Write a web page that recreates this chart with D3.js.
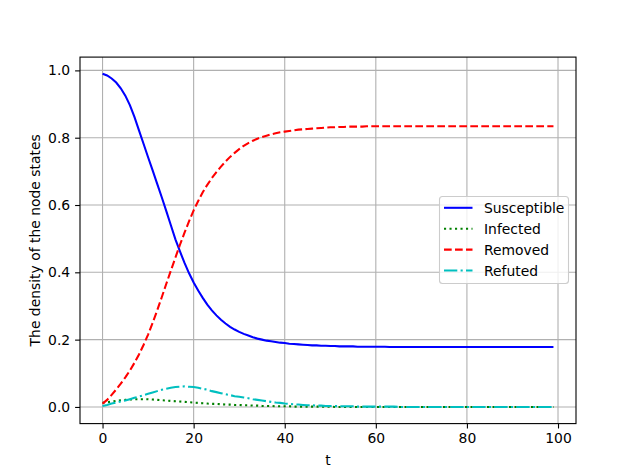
<!DOCTYPE html>
<html>
<head>
<meta charset="utf-8">
<script src="https://cdn.jsdelivr.net/npm/d3@7"></script>
<style>
  body { margin: 0; background: #fff; }
  svg text { font-family: "DejaVu Sans", sans-serif; }
</style>
</head>
<body>
<div id="chart"></div>
<script>
// values, one per t = 0..99
var susceptible = [
  0.990, 0.985, 0.976, 0.964, 0.947, 0.925, 0.897, 0.862, 0.822, 0.782,
  0.742, 0.703, 0.663, 0.623, 0.582, 0.540, 0.498, 0.462, 0.428, 0.397,
  0.370, 0.346, 0.324, 0.304, 0.287, 0.272, 0.259, 0.248, 0.238, 0.230,
  0.223, 0.217, 0.212, 0.207, 0.203, 0.200, 0.197, 0.195, 0.193, 0.191,
  0.190, 0.188, 0.187, 0.186, 0.185, 0.184, 0.183, 0.183, 0.182, 0.182,
  0.181, 0.181, 0.180, 0.180, 0.180, 0.180, 0.179, 0.179, 0.179, 0.179,
  0.179, 0.179, 0.179, 0.178, 0.178, 0.178, 0.178, 0.178, 0.178, 0.178,
  0.178, 0.178, 0.178, 0.178, 0.178, 0.178, 0.178, 0.178, 0.178, 0.178,
  0.178, 0.178, 0.178, 0.178, 0.178, 0.178, 0.178, 0.178, 0.178, 0.178,
  0.178, 0.178, 0.178, 0.178, 0.178, 0.178, 0.178, 0.178, 0.178, 0.178
];
var infected = [
  0.012, 0.014, 0.016, 0.018, 0.020, 0.021, 0.022, 0.023, 0.023, 0.023,
  0.023, 0.022, 0.021, 0.020, 0.019, 0.018, 0.017, 0.016, 0.015, 0.014,
  0.013, 0.012, 0.011, 0.010, 0.009, 0.009, 0.008, 0.007, 0.007, 0.006,
  0.006, 0.005, 0.005, 0.004, 0.004, 0.003, 0.003, 0.003, 0.002, 0.002,
  0.002, 0.002, 0.001, 0.001, 0.001, 0.001, 0.001, 0.001, 0.001, 0.001,
  0.001, 0.000, 0.000, 0.000, 0.000, 0.000, 0.000, 0.000, 0.000, 0.000,
  0.000, 0.000, 0.000, 0.000, 0.000, 0.000, 0.000, 0.000, 0.000, 0.000,
  0.000, 0.000, 0.000, 0.000, 0.000, 0.000, 0.000, 0.000, 0.000, 0.000,
  0.000, 0.000, 0.000, 0.000, 0.000, 0.000, 0.000, 0.000, 0.000, 0.000,
  0.000, 0.000, 0.000, 0.000, 0.000, 0.000, 0.000, 0.000, 0.000, 0.000
];
var removed = [
  0.010, 0.021, 0.036, 0.052, 0.069, 0.088, 0.108, 0.131, 0.156, 0.184,
  0.215, 0.250, 0.287, 0.326, 0.366, 0.405, 0.444, 0.482, 0.518, 0.552,
  0.584, 0.612, 0.638, 0.660, 0.680, 0.698, 0.714, 0.729, 0.743, 0.755,
  0.766, 0.776, 0.784, 0.791, 0.797, 0.802, 0.806, 0.810, 0.813, 0.816,
  0.818, 0.820, 0.822, 0.824, 0.825, 0.826, 0.827, 0.828, 0.829, 0.830,
  0.831, 0.831, 0.832, 0.832, 0.833, 0.833, 0.833, 0.833, 0.834, 0.834,
  0.834, 0.834, 0.834, 0.834, 0.834, 0.834, 0.834, 0.834, 0.834, 0.834,
  0.834, 0.834, 0.834, 0.834, 0.834, 0.834, 0.834, 0.834, 0.834, 0.834,
  0.834, 0.834, 0.834, 0.834, 0.834, 0.834, 0.834, 0.834, 0.834, 0.834,
  0.834, 0.834, 0.834, 0.834, 0.834, 0.834, 0.834, 0.834, 0.834, 0.834
];
var refuted = [
  0.003, 0.006, 0.010, 0.013, 0.016, 0.019, 0.023, 0.027, 0.031, 0.035,
  0.039, 0.043, 0.047, 0.051, 0.054, 0.057, 0.059, 0.060, 0.061, 0.060,
  0.059, 0.057, 0.054, 0.051, 0.047, 0.044, 0.041, 0.038, 0.035, 0.032,
  0.030, 0.028, 0.026, 0.023, 0.021, 0.019, 0.017, 0.015, 0.013, 0.012,
  0.010, 0.009, 0.008, 0.007, 0.006, 0.005, 0.005, 0.004, 0.004, 0.003,
  0.003, 0.003, 0.002, 0.002, 0.002, 0.002, 0.001, 0.001, 0.001, 0.001,
  0.001, 0.001, 0.001, 0.001, 0.001, 0.000, 0.000, 0.000, 0.000, 0.000,
  0.000, 0.000, 0.000, 0.000, 0.000, 0.000, 0.000, 0.000, 0.000, 0.000,
  0.000, 0.000, 0.000, 0.000, 0.000, 0.000, 0.000, 0.000, 0.000, 0.000,
  0.000, 0.000, 0.000, 0.000, 0.000, 0.000, 0.000, 0.000, 0.000, 0.000
];
var seriesNames = ["Susceptible", "Infected", "Removed", "Refuted"];
var xTicks = [0, 20, 40, 60, 80, 100];
var yTicks = [0.0, 0.2, 0.4, 0.6, 0.8, 1.0];

var width = 640, height = 476;
var plotLeft = 80, plotRight = 576, plotTop = 57.1, plotBottom = 423.6;

var t = d3.range(susceptible.length);
var allValues = susceptible.concat(infected, removed, refuted);

// matplotlib style 5% margins
var xMin = d3.min(t), xMax = d3.max(t);
var xPad = (xMax - xMin) * 0.05;
var yMin = d3.min(allValues), yMax = d3.max(allValues);
var yPad = (yMax - yMin) * 0.05;

var x = d3.scaleLinear().domain([xMin - xPad, xMax + xPad]).range([plotLeft, plotRight]);
var y = d3.scaleLinear().domain([yMin - yPad, yMax + yPad]).range([plotBottom, plotTop]);

var svg = d3.select("#chart").append("svg")
    .attr("width", width)
    .attr("height", height);

// grid
var grid = svg.append("g").attr("class", "grid");
grid.selectAll(".vgrid")
    .data(xTicks)
    .enter().append("line")
    .attr("x1", function(d) { return x(d); })
    .attr("x2", function(d) { return x(d); })
    .attr("y1", plotTop)
    .attr("y2", plotBottom)
    .style("stroke", "#b0b0b0")
    .style("stroke-width", 1.1);
grid.selectAll(".hgrid")
    .data(yTicks)
    .enter().append("line")
    .attr("x1", plotLeft)
    .attr("x2", plotRight)
    .attr("y1", function(d) { return y(d); })
    .attr("y2", function(d) { return y(d); })
    .style("stroke", "#b0b0b0")
    .style("stroke-width", 1.1);

var series = [
    { name: seriesNames[0], values: susceptible, color: "#0000ff", dash: null },
    { name: seriesNames[1], values: infected, color: "#008000", dash: "2.1,3.4" },
    { name: seriesNames[2], values: removed, color: "#ff0000", dash: "7.7,3.3" },
    { name: seriesNames[3], values: refuted, color: "#00bfbf", dash: "13.3,3.3,2.1,3.3" }
];

var line = d3.line()
    .x(function(d, i) { return x(t[i]); })
    .y(function(d) { return y(d); });

svg.append("defs").append("clipPath").attr("id", "clip")
    .append("rect")
    .attr("x", plotLeft).attr("y", plotTop)
    .attr("width", plotRight - plotLeft).attr("height", plotBottom - plotTop);

svg.append("g").attr("clip-path", "url(#clip)")
    .selectAll("path")
    .data(series)
    .enter().append("path")
    .attr("d", function(d) { return line(d.values); })
    .style("fill", "none")
    .style("stroke", function(d) { return d.color; })
    .style("stroke-width", 2.08)
    .style("stroke-dasharray", function(d) { return d.dash; });

// axes
var xAxis = d3.axisBottom(x).tickValues(xTicks).tickSize(4.9).tickPadding(4.9)
    .tickFormat(d3.format("d"));
var yAxis = d3.axisLeft(y).tickValues(yTicks).tickSize(4.9).tickPadding(4.9)
    .tickFormat(d3.format(".1f"));

var gx = svg.append("g").attr("transform", "translate(0," + plotBottom + ")").call(xAxis);
var gy = svg.append("g").attr("transform", "translate(" + plotLeft + ",0)").call(yAxis);
[gx, gy].forEach(function(g) {
    g.select(".domain").remove();
    g.selectAll(".tick line").style("stroke", "#000").style("stroke-width", 1.1);
    g.selectAll(".tick text").style("font-size", "13.9px").style("fill", "#000")
        .style("font-family", "DejaVu Sans, sans-serif");
});

// frame
svg.append("rect")
    .attr("x", plotLeft).attr("y", plotTop)
    .attr("width", plotRight - plotLeft).attr("height", plotBottom - plotTop)
    .style("fill", "none")
    .style("stroke", "#000")
    .style("stroke-width", 1.1);

// labels
svg.append("text")
    .attr("x", (plotLeft + plotRight) / 2)
    .attr("y", 465)
    .attr("text-anchor", "middle")
    .style("font-size", "13.9px")
    .text("t");
svg.append("text")
    .attr("transform", "translate(40," + ((plotTop + plotBottom) / 2) + ") rotate(-90)")
    .attr("text-anchor", "middle")
    .style("font-size", "13.9px")
    .text("The density of the node states");

// legend
var legend = svg.append("g").attr("class", "legend");
legend.append("rect")
    .attr("x", 439.5).attr("y", 196.5)
    .attr("width", 129).attr("height", 87)
    .attr("rx", 3).attr("ry", 3)
    .style("fill", "#fff").style("fill-opacity", 0.8)
    .style("stroke", "#cccccc").style("stroke-width", 1.1);

var item = legend.selectAll(".item")
    .data(series)
    .enter().append("g")
    .attr("class", "item")
    .attr("transform", function(d, i) { return "translate(0," + (207.8 + i * 20.9) + ")"; });
item.append("line")
    .attr("x1", 444).attr("x2", 472.5)
    .attr("y1", 0).attr("y2", 0)
    .style("stroke", function(d) { return d.color; })
    .style("stroke-width", 2.08)
    .style("stroke-dasharray", function(d) { return d.dash; });
item.append("text")
    .attr("x", 484)
    .attr("y", 5)
    .style("font-size", "13.9px")
    .text(function(d) { return d.name; });
</script>
</body>
</html>
